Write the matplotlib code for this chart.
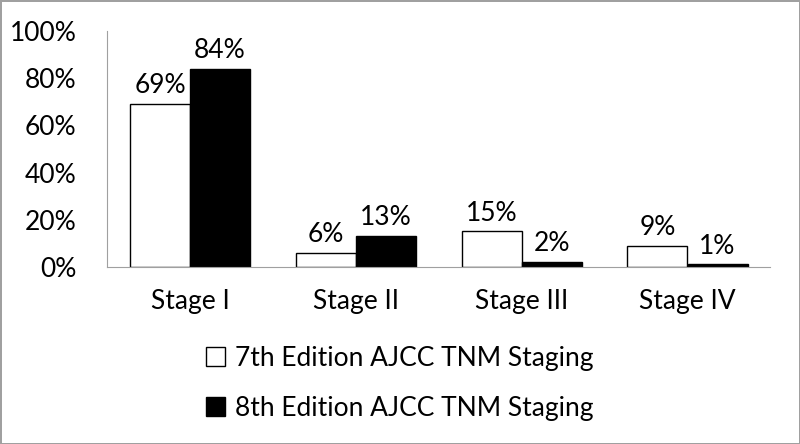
import matplotlib.pyplot as plt
import numpy as np
from matplotlib.patches import Patch

plt.rcParams['font.family'] = ['Lato', 'DejaVu Sans']

stages = ['Stage I', 'Stage II', 'Stage III', 'Stage IV']
ed7 = [0.69, 0.06, 0.15, 0.09]
ed8 = [0.84, 0.13, 0.02, 0.01]
ed7_labels = ['69%', '6%', '15%', '9%']
ed8_labels = ['84%', '13%', '2%', '1%']
yticks = [0, 0.2, 0.4, 0.6, 0.8, 1.0]
ytick_labels = ['0%', '20%', '40%', '60%', '80%', '100%']

fs = 19

fig = plt.figure(figsize=(8, 4.44), dpi=100)
fig.patch.set_edgecolor('#a0a0a0')
fig.patch.set_linewidth(2)
ax = fig.add_axes([0.134, 0.399, 0.829, 0.531])

x = np.arange(len(stages))
w = 0.362
ax.bar(x - w/2, ed7, w, color='white', edgecolor='black', linewidth=1)
ax.bar(x + w/2, ed8, w, color='black', edgecolor='black', linewidth=1)

for i in range(len(stages)):
    ax.text(x[i] - w/2, ed7[i] + 0.025, ed7_labels[i], ha='center', va='bottom', fontsize=fs)
    ax.text(x[i] + w/2, ed8[i] + 0.025, ed8_labels[i], ha='center', va='bottom', fontsize=fs)

ax.set_xlim(-0.5, 3.5)
ax.set_ylim(0, 1.0)
ax.set_yticks(yticks)
ax.set_yticklabels(ytick_labels, fontsize=fs)
ax.set_xticks(x)
ax.set_xticklabels(stages, fontsize=fs)
ax.tick_params(axis='x', length=0, pad=16)
ax.tick_params(axis='y', length=0, pad=22)
for s in ['top', 'right']:
    ax.spines[s].set_visible(False)
ax.spines['left'].set_color('#a0a0a0')
ax.spines['bottom'].set_color('#a0a0a0')

handles = [Patch(facecolor='white', edgecolor='black', linewidth=1),
           Patch(facecolor='black', edgecolor='black', linewidth=1)]
fig.legend(handles, ['7th Edition AJCC TNM Staging', '8th Edition AJCC TNM Staging'],
           loc='upper center', bbox_to_anchor=(0.5, 0.245), frameon=False,
           fontsize=fs, handlelength=0.7, handleheight=0.7, handletextpad=0.4,
           labelspacing=0.95, borderaxespad=0)

fig.savefig('out.png', dpi=100)
